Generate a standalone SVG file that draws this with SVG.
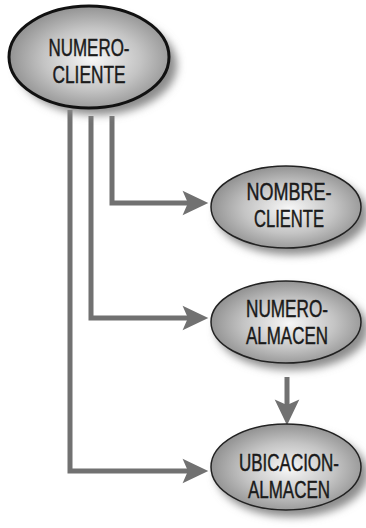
<svg xmlns="http://www.w3.org/2000/svg" width="366" height="528" viewBox="0 0 366 528">
<style>
.lbl{font-family:"Liberation Sans",Arial,sans-serif;font-size:23.5px;fill:#1a1a1a;stroke:#1a1a1a;stroke-width:0.45;text-anchor:middle}
.node{fill:url(#g)}
.line{fill:none;stroke:#717171;stroke-width:5}
.sh{fill:#8c8c8c;filter:url(#blur)}
</style>
<defs>
<radialGradient id="g" cx="0.52" cy="0.52" r="0.55">
<stop offset="0" stop-color="#f7f7f7"/>
<stop offset="0.55" stop-color="#c4c4c4"/>
<stop offset="1" stop-color="#8c8c8c"/>
</radialGradient>
<filter id="blur" x="-20%" y="-30%" width="140%" height="160%">
<feGaussianBlur stdDeviation="4"/>
</filter>
<marker id="ah" markerUnits="userSpaceOnUse" markerWidth="30" markerHeight="30" viewBox="-25 -13 28 26" refX="-18" refY="0" orient="auto">
<path d="M0,0 L-24,-11.5 L-19,0 L-24,11.5 Z" fill="#717171"/>
</marker>
</defs>
<g id="connectors">
<path class="line" d="M112,116 V203 H189" marker-end="url(#ah)"/>
<path class="line" d="M91,116 V318 H189" marker-end="url(#ah)"/>
<path class="line" d="M70,110 V471 H189" marker-end="url(#ah)"/>
<path class="line" d="M287,377 V406" marker-end="url(#ah)"/>
</g>
<g id="numero-cliente">
<ellipse class="sh" cx="97" cy="65" rx="80" ry="50"/>
<ellipse class="node" cx="89" cy="57" rx="80" ry="51" stroke="#111" stroke-width="3"/>
<text class="lbl" x="89" y="56" textLength="81" lengthAdjust="spacingAndGlyphs">NUMERO-</text>
<text class="lbl" x="89" y="83" textLength="73" lengthAdjust="spacingAndGlyphs">CLIENTE</text>
</g>
<g id="nombre-cliente">
<ellipse class="sh" cx="292" cy="214" rx="76" ry="41"/>
<ellipse class="node" cx="286" cy="207" rx="75" ry="41" stroke="#222" stroke-width="1.5"/>
<text class="lbl" x="289" y="200" textLength="85" lengthAdjust="spacingAndGlyphs">NOMBRE-</text>
<text class="lbl" x="289" y="227" textLength="70" lengthAdjust="spacingAndGlyphs">CLIENTE</text>
</g>
<g id="numero-almacen">
<ellipse class="sh" cx="292" cy="329" rx="76" ry="41"/>
<ellipse class="node" cx="286" cy="322" rx="75" ry="41" stroke="#222" stroke-width="1.5"/>
<text class="lbl" x="287" y="317" textLength="82" lengthAdjust="spacingAndGlyphs">NUMERO-</text>
<text class="lbl" x="287" y="344" textLength="82" lengthAdjust="spacingAndGlyphs">ALMACEN</text>
</g>
<g id="ubicacion-almacen">
<ellipse class="sh" cx="292" cy="474" rx="76" ry="43"/>
<ellipse class="node" cx="286" cy="467" rx="75" ry="43" stroke="#222" stroke-width="1.5"/>
<text class="lbl" x="289" y="471" textLength="100" lengthAdjust="spacingAndGlyphs">UBICACION-</text>
<text class="lbl" x="289" y="498" textLength="82" lengthAdjust="spacingAndGlyphs">ALMACEN</text>
</g>
</svg>
